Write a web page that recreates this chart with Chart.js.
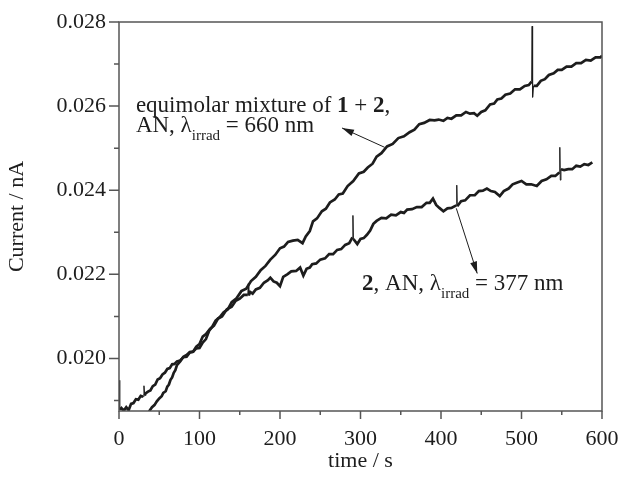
<!DOCTYPE html>
<html>
<head>
<meta charset="utf-8">
<script src="https://cdn.jsdelivr.net/npm/chart.js@4.4.1/dist/chart.umd.min.js"></script>
<style>
    html, body { margin: 0; padding: 0; background: #fff; }
</style>
</head>
<body>
<canvas id="currentChart" width="620" height="480"></canvas>
<script>
// Photocurrent traces
// 2, AN, irradiated at 377 nm
const soloTime = [
    0, 0.6, 1.2, 3, 6, 9, 12, 15, 18, 21,
    24, 27, 30, 31, 32, 33, 36, 39, 42, 45,
    48, 51, 54, 57, 60, 63, 66, 69, 72, 76,
    80, 84, 88, 92, 96, 100, 104, 108, 113, 118,
    123, 128, 134, 140, 145, 150, 155, 160, 160.6, 161.2,
    163, 166, 170, 175, 180, 185, 188, 192, 196, 200,
    204, 209, 214, 220, 225, 229, 233, 237, 240, 245,
    250, 256, 261, 266, 271, 276, 281, 286, 290, 290.6,
    291.2, 296, 300, 304, 308, 312, 316, 320, 326, 332,
    338, 344, 350, 354, 358, 364, 370, 376, 382, 386,
    390, 394, 398, 403, 408, 413, 419, 419.6, 420.2, 425,
    430, 436, 442, 447, 452, 457, 462, 467, 473, 478,
    484, 489, 494, 500, 506, 512, 519, 525, 531, 537,
    542, 547, 547.6, 548.2, 549, 553, 558, 563, 568, 573,
    578, 583, 588
];
const soloCurrent = [
    0.0188, 0.01948, 0.01878, 0.01882, 0.01876, 0.01884, 0.01877, 0.01892, 0.01894, 0.01903,
    0.01902, 0.01911, 0.01909, 0.01935, 0.01912, 0.01917, 0.01921, 0.01924, 0.01934, 0.01938,
    0.0195, 0.01953, 0.01962, 0.01966, 0.01975, 0.01977, 0.01986, 0.01987, 0.01993, 0.01995,
    0.02003, 0.02004, 0.02014, 0.02016, 0.02028, 0.02034, 0.02052, 0.02058, 0.0207, 0.02078,
    0.02095, 0.021, 0.02117, 0.02123, 0.02137, 0.02142, 0.02151, 0.02151, 0.02178, 0.0215,
    0.02158, 0.02154, 0.02164, 0.02168, 0.0218, 0.02186, 0.02192, 0.02183, 0.0218, 0.02172,
    0.02194, 0.022, 0.02207, 0.02208, 0.02216, 0.02197, 0.02213, 0.02216, 0.02224, 0.02226,
    0.02235, 0.02238, 0.02248, 0.02248, 0.02258, 0.0226, 0.0227, 0.02274, 0.02288, 0.0234,
    0.02284, 0.02272, 0.02284, 0.02286, 0.02294, 0.02304, 0.0232, 0.02327, 0.02334, 0.02333,
    0.02342, 0.0234, 0.02348, 0.02346, 0.02354, 0.02355, 0.0236, 0.0236, 0.0237, 0.0237,
    0.0238, 0.02365, 0.02358, 0.0235, 0.02357, 0.02358, 0.02364, 0.02412, 0.02362, 0.02374,
    0.02376, 0.02388, 0.02388, 0.02398, 0.02399, 0.02404, 0.02398, 0.02396, 0.02386, 0.02398,
    0.02404, 0.02414, 0.02418, 0.02422, 0.02414, 0.02414, 0.0241, 0.02422, 0.02426, 0.02434,
    0.02434, 0.02442, 0.02502, 0.02424, 0.0245, 0.02448, 0.0245, 0.0245, 0.02458, 0.02456,
    0.02462, 0.0246, 0.02466
];

// equimolar mixture of 1 + 2, AN, irradiated at 660 nm
const mixTime = [
    34, 38, 41, 44, 47, 50, 53, 55, 58, 60,
    62, 64, 66, 68, 70, 72, 76, 80, 84, 88,
    92, 96, 100, 104, 108, 112, 116, 120, 125, 130,
    135, 140, 146, 152, 158, 164, 170, 176, 182, 188,
    194, 200, 205, 210, 216, 222, 228, 232, 237, 241,
    246, 252, 257, 262, 268, 273, 278, 284, 291, 298,
    304, 309, 315, 320, 326, 333, 340, 347, 354, 361,
    367, 373, 379, 386, 392, 397, 403, 408, 413, 419,
    425, 431, 436, 441, 445, 450, 455, 461, 466, 470,
    475, 480, 486, 492, 498, 504, 509, 512.6, 513.2, 513.8,
    515, 519, 524, 529, 534, 540, 545, 550, 556, 562,
    568, 574, 580, 586, 592, 598, 600
];
const mixCurrent = [
    0.0186, 0.01876, 0.01884, 0.01889, 0.01898, 0.01905, 0.0191, 0.01918, 0.01922, 0.01933,
    0.01938, 0.01949, 0.01955, 0.01966, 0.01972, 0.01984, 0.01993, 0.02004, 0.02008, 0.02015,
    0.02016, 0.02024, 0.02025, 0.02038, 0.02046, 0.02066, 0.02076, 0.0209, 0.02098, 0.0211,
    0.02116, 0.02134, 0.02143, 0.0216, 0.02166, 0.02184, 0.02194, 0.0221, 0.0222, 0.02235,
    0.02246, 0.02262, 0.02266, 0.02277, 0.0228, 0.02282, 0.02274, 0.0229, 0.02303, 0.02326,
    0.02333, 0.0235, 0.02356, 0.02371, 0.02378, 0.0239, 0.02392, 0.0241, 0.02422, 0.0244,
    0.02444, 0.02454, 0.02463, 0.0248, 0.02488, 0.02504, 0.0251, 0.02524, 0.02528, 0.02538,
    0.02544, 0.02557, 0.0256, 0.02567, 0.02566, 0.02568, 0.02565, 0.02572, 0.0257, 0.02578,
    0.02578, 0.02586, 0.02582, 0.02583, 0.02577, 0.02586, 0.0259, 0.02604, 0.02606, 0.02616,
    0.02618, 0.02627, 0.0263, 0.0264, 0.0264, 0.02648, 0.0265, 0.02658, 0.0279, 0.02621,
    0.02648, 0.02648, 0.0266, 0.02664, 0.02674, 0.02678, 0.02686, 0.02686, 0.02694, 0.02694,
    0.02702, 0.02702, 0.0271, 0.02708, 0.02716, 0.02716, 0.0272
];

// axis ticks
const xMajorTicks = [0, 100, 200, 300, 400, 500, 600];
const xMinorTicks = [50, 150, 250, 350, 450, 550];
const yMajorTicks = [0.020, 0.022, 0.024, 0.026, 0.028];
const yMinorTicks = [0.019, 0.021, 0.023, 0.025, 0.027];

const SERIF = '"Liberation Serif", "Times New Roman", serif';
const INK = '#1d1d1d';

function toPoints(xs, ys) {
    return xs.map((t, i) => ({ x: t, y: ys[i] }));
}

// spikes in the trace are drawn thin, the noisy band thick
function segWidth(c) {
    const dx = Math.abs(c.p1.x - c.p0.x);
    const dy = Math.abs(c.p1.y - c.p0.y);
    return dy > 8 && dy > 6 * dx ? 1 : 2.7;
}

function drawRich(ctx, parts, px, py) {
    let cx = px;
    parts.forEach(p => {
        const size = p.sub ? 15 : 23;
        ctx.font = (p.bold ? 'bold ' : '') + size + 'px ' + SERIF;
        ctx.fillText(p.t, cx, py + (p.sub ? 8 : 0));
        cx += ctx.measureText(p.t).width;
    });
}

function drawArrow(ctx, x0, y0, x1, y1) {
    ctx.beginPath();
    ctx.moveTo(x0, y0);
    ctx.lineTo(x1, y1);
    ctx.stroke();
    const ang = Math.atan2(y1 - y0, x1 - x0);
    const len = 12, half = 3.5;
    const bx = x1 - len * Math.cos(ang), by = y1 - len * Math.sin(ang);
    ctx.beginPath();
    ctx.moveTo(x1, y1);
    ctx.lineTo(bx + half * Math.sin(ang), by - half * Math.cos(ang));
    ctx.lineTo(bx - half * Math.sin(ang), by + half * Math.cos(ang));
    ctx.closePath();
    ctx.fill();
}

const frameAndNotes = {
    id: 'frameAndNotes',
    afterDatasetsDraw(chart) {
        const { ctx, chartArea: a, scales: { x, y } } = chart;
        ctx.save();

        // box round the plot
        ctx.strokeStyle = '#555';
        ctx.lineWidth = 1.5;
        ctx.strokeRect(a.left, a.top, a.right - a.left, a.bottom - a.top);

        // tick marks, outside
        ctx.beginPath();
        xMajorTicks.forEach(v => { const p = x.getPixelForValue(v); ctx.moveTo(p, a.bottom); ctx.lineTo(p, a.bottom + 8); });
        xMinorTicks.forEach(v => { const p = x.getPixelForValue(v); ctx.moveTo(p, a.bottom); ctx.lineTo(p, a.bottom + 4); });
        yMajorTicks.forEach(v => { const p = y.getPixelForValue(v); ctx.moveTo(a.left, p); ctx.lineTo(a.left - 10, p); });
        yMinorTicks.forEach(v => { const p = y.getPixelForValue(v); ctx.moveTo(a.left, p); ctx.lineTo(a.left - 5, p); });
        ctx.stroke();

        // labels
        ctx.fillStyle = INK;
        ctx.textBaseline = 'alphabetic';
        ctx.textAlign = 'left';
        drawRich(ctx, [
            { t: 'equimolar mixture of ' }, { t: '1', bold: true }, { t: ' + ' }, { t: '2', bold: true }, { t: ',' }
        ], x.getPixelForValue(21), y.getPixelForValue(0.02586));
        drawRich(ctx, [
            { t: 'AN, λ' }, { t: 'irrad', sub: true }, { t: ' = 660 nm' }
        ], x.getPixelForValue(21), y.getPixelForValue(0.02538));
        drawRich(ctx, [
            { t: '2', bold: true }, { t: ', AN, λ' }, { t: 'irrad', sub: true }, { t: ' = 377 nm' }
        ], x.getPixelForValue(302), y.getPixelForValue(0.02162));

        // arrows
        ctx.strokeStyle = INK;
        ctx.lineWidth = 1;
        drawArrow(ctx, x.getPixelForValue(330), y.getPixelForValue(0.02502), x.getPixelForValue(277), y.getPixelForValue(0.02548));
        drawArrow(ctx, x.getPixelForValue(419), y.getPixelForValue(0.02357), x.getPixelForValue(445), y.getPixelForValue(0.02202));

        ctx.restore();
    }
};

// eslint-disable-next-line no-new
new Chart(document.getElementById('currentChart'), {
    type: 'line',
    data: {
        datasets: [{
            label: '2, AN, 377 nm',
            data: toPoints(soloTime, soloCurrent),
            borderColor: INK,
            borderWidth: 2.7,
            pointRadius: 0,
            tension: 0,
            segment: { borderWidth: segWidth }
        }, {
            label: '1 + 2, AN, 660 nm',
            data: toPoints(mixTime, mixCurrent),
            borderColor: INK,
            borderWidth: 2.7,
            pointRadius: 0,
            tension: 0,
            segment: { borderWidth: segWidth }
        }]
    },
    options: {
        responsive: false,
        animation: false,
        layout: { padding: { top: 22, right: 18, left: 0, bottom: 0 } },
        plugins: {
            legend: { display: false },
            tooltip: { enabled: false }
        },
        scales: {
            x: {
                type: 'linear',
                min: 0,
                max: 600,
                afterFit(scale) {
                    scale.height = 69;
                    scale.paddingLeft = 0;
                    scale.paddingRight = 0;
                },
                grid: { display: false, drawTicks: false },
                border: { display: false },
                ticks: {
                    stepSize: 100,
                    padding: 15,
                    color: INK,
                    font: { family: SERIF, size: 22 }
                },
                title: {
                    display: true,
                    text: 'time / s',
                    color: INK,
                    font: { family: SERIF, size: 22 },
                    padding: { top: 4, bottom: 6 }
                }
            },
            y: {
                type: 'linear',
                min: 0.01875,
                max: 0.028,
                afterFit(scale) {
                    scale.width = 119;
                    scale.paddingTop = 0;
                    scale.paddingBottom = 0;
                },
                afterBuildTicks(scale) { scale.ticks = yMajorTicks.map(v => ({ value: v })); },
                grid: { display: false, drawTicks: false },
                border: { display: false },
                ticks: {
                    padding: 13,
                    color: INK,
                    font: { family: SERIF, size: 22 },
                    callback: v => v.toFixed(3)
                },
                title: {
                    display: true,
                    text: 'Current / nA',
                    color: INK,
                    font: { family: SERIF, size: 22 },
                    padding: { top: 4, bottom: 4 }
                }
            }
        }
    },
    plugins: [frameAndNotes]
});
</script>
</body>
</html>
